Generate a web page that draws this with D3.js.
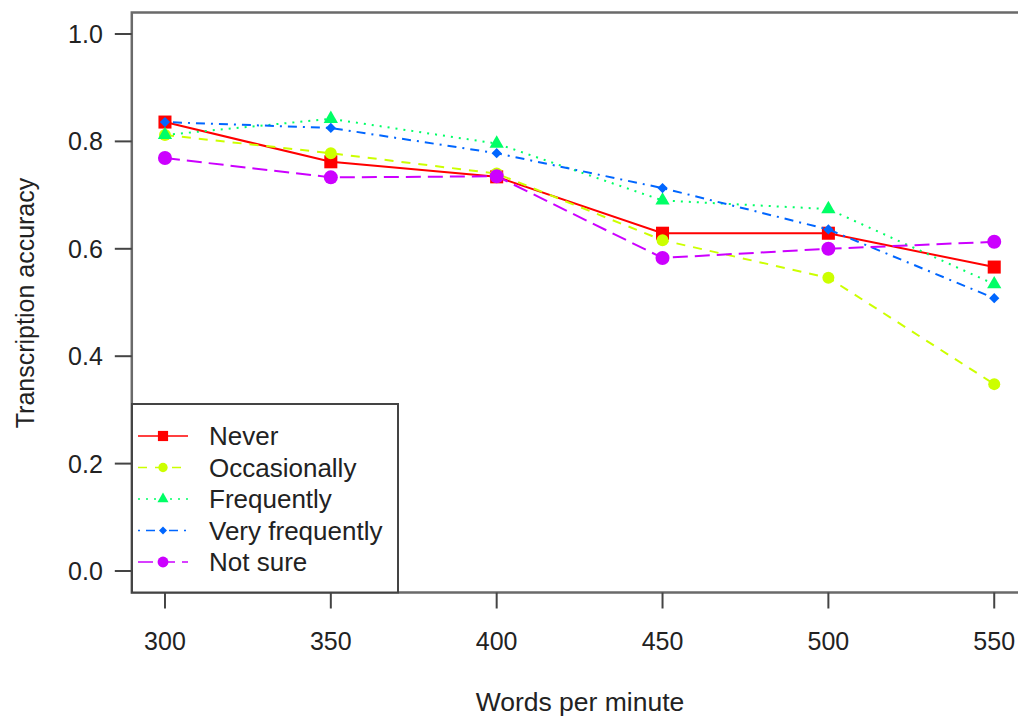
<!DOCTYPE html>
<head>
    <meta charset="utf-8" />
    <script src="https://d3js.org/d3.v7.min.js"></script>
    <style>
        body { margin: 0; background: #fff; }
        text { font-family: "Liberation Sans", Arial, sans-serif; fill: #222; }
    </style>
</head>
<body>
<script>
    // data
    var wpm = [300, 350, 400, 450, 500, 550];
    var never = [0.836, 0.762, 0.734, 0.629, 0.629, 0.566];
    var occasionally = [0.812, 0.778, 0.740, 0.616, 0.546, 0.348];
    var frequently = [0.812, 0.842, 0.796, 0.690, 0.674, 0.534];
    var veryFrequently = [0.836, 0.825, 0.778, 0.713, 0.636, 0.508];
    var notSure = [0.769, 0.733, 0.735, 0.583, 0.600, 0.613];

    var seriesNames = ["Never", "Occasionally", "Frequently", "Very frequently", "Not sure"];
    var seriesValues = [never, occasionally, frequently, veryFrequently, notSure];
    var colors = ["#FF0000", "#CCFF00", "#00FF66", "#0066FF", "#CC00FF"];
    var dashes = [null, "9,8", "2,6", "2,6,9,6", "15,7"];
    var yTicks = [0, 0.2, 0.4, 0.6, 0.8, 1.0];

    var width = 1018, height = 718;
    var svg = d3.select("body").append("svg")
        .attr("width", width).attr("height", height);

    // R style: axis range padded by 4%
    var x = d3.scaleLinear().domain([290, 560]).range([131.8, 1027.4]);
    var y = d3.scaleLinear().domain([-0.04, 1.04]).range([592.5, 12.5]);

    // plot box
    svg.append("rect")
        .attr("x", x(290)).attr("y", y(1.04))
        .attr("width", x(560) - x(290)).attr("height", y(-0.04) - y(1.04))
        .attr("fill", "none").attr("stroke", "#6a6a6a").attr("stroke-width", 2.5);

    // y axis
    var yAxis = svg.append("g").attr("transform", "translate(" + x(290) + ",0)");
    yAxis.selectAll("line").data(yTicks).join("line")
        .attr("x1", -17).attr("x2", 0)
        .attr("y1", d => y(d)).attr("y2", d => y(d))
        .attr("stroke", "#444").attr("stroke-width", 2);
    yAxis.selectAll("text").data(yTicks).join("text")
        .attr("x", -29).attr("y", d => y(d))
        .attr("dy", "0.36em")
        .attr("text-anchor", "end")
        .style("font-size", "25px")
        .text(d => d3.format(".1f")(d));

    // x axis
    var xAxis = svg.append("g").attr("transform", "translate(0," + y(-0.04) + ")");
    xAxis.selectAll("line").data(wpm).join("line")
        .attr("x1", d => x(d)).attr("x2", d => x(d))
        .attr("y1", 0).attr("y2", 16)
        .attr("stroke", "#444").attr("stroke-width", 2);
    xAxis.selectAll("text").data(wpm).join("text")
        .attr("x", d => x(d)).attr("y", 48)
        .attr("dy", "0.36em")
        .attr("text-anchor", "middle")
        .style("font-size", "25px")
        .text(d => d);

    // axis titles
    svg.append("text")
        .attr("x", 580).attr("y", 701)
        .attr("dy", "0.36em")
        .attr("text-anchor", "middle")
        .style("font-size", "26.5px")
        .text("Words per minute");
    svg.append("text")
        .attr("transform", "translate(25,303) rotate(-90)")
        .attr("dy", "0.36em")
        .attr("text-anchor", "middle")
        .style("font-size", "25px")
        .text("Transcription accuracy");

    // markers (pch 15, 16, 17, 18, 19)
    function marker(sel, i, s) {
        if (i === 0) {
            sel.append("path").attr("d", d3.symbol(d3.symbolSquare, 170 * s * s));
        } else if (i === 1) {
            sel.append("circle").attr("r", 6 * s);
        } else if (i === 2) {
            sel.append("path").attr("d", d3.symbol(d3.symbolTriangle, 88 * s * s));
        } else if (i === 3) {
            sel.append("path").attr("d", d3.symbol(d3.symbolSquare, 52 * s * s))
                .attr("transform", "rotate(45)");
        } else {
            sel.append("circle").attr("r", 7 * s);
        }
        sel.selectAll("*").attr("fill", colors[i]);
    }

    var line = d3.line().x((d, i) => x(wpm[i])).y(d => y(d));

    seriesValues.forEach(function (vals, i) {
        var g = svg.append("g");
        g.append("path")
            .attr("d", line(vals))
            .attr("fill", "none")
            .attr("stroke", colors[i])
            .attr("stroke-width", 2)
            .attr("stroke-dasharray", dashes[i]);
        g.selectAll("g.pt").data(vals).join("g")
            .attr("class", "pt")
            .attr("transform", (d, j) => "translate(" + x(wpm[j]) + "," + y(d) + ")")
            .each(function () { marker(d3.select(this), i, 1); });
    });

    // legend
    var lx = 132, ly = 404;
    var legend = svg.append("g");
    legend.append("rect")
        .attr("x", lx).attr("y", ly)
        .attr("width", 266).attr("height", y(-0.04) - ly)
        .attr("fill", "#fff").attr("stroke", "#444").attr("stroke-width", 2);
    seriesNames.forEach(function (name, i) {
        var yy = 436 + i * 31.5;
        legend.append("line")
            .attr("x1", 138).attr("x2", 188)
            .attr("y1", yy).attr("y2", yy)
            .attr("stroke", colors[i]).attr("stroke-width", 1.6)
            .attr("stroke-dasharray", dashes[i]);
        var m = legend.append("g").attr("transform", "translate(163," + yy + ")");
        marker(m, i, 0.78);
        legend.append("text")
            .attr("x", 209).attr("y", yy)
            .attr("dy", "0.36em")
            .style("font-size", "26px")
            .text(name);
    });
</script>
</body>
